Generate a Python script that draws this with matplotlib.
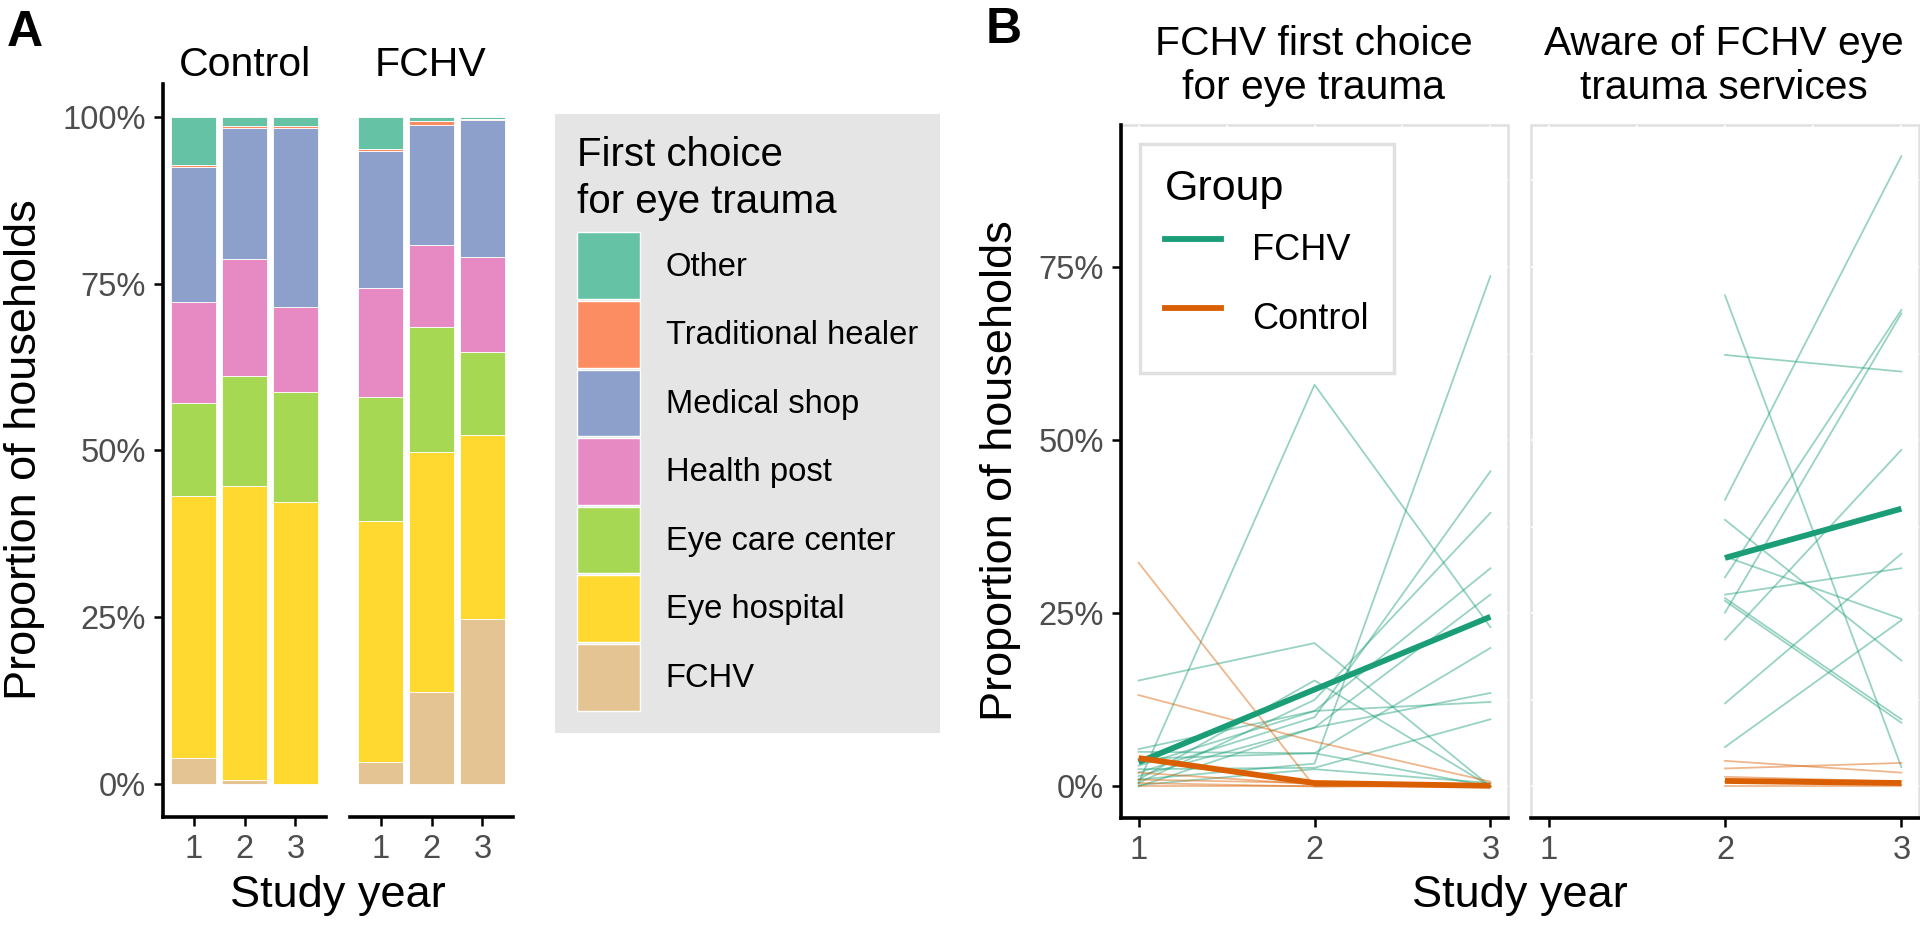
import matplotlib.pyplot as plt
import numpy as np
from matplotlib.patches import Patch, Rectangle
from matplotlib.lines import Line2D

plt.rcParams['font.family'] = ['Liberation Sans', 'DejaVu Sans']

# ---- panel A data: share of households (%) by first choice, years 1-3 ----
years = [1, 2, 3]
choices = ['Other', 'Traditional healer', 'Medical shop', 'Health post',
           'Eye care center', 'Eye hospital', 'FCHV']
choice_colors = ['#66C2A5', '#FC8D62', '#8DA0CB', '#E78AC3',
                 '#A6D854', '#FFD92F', '#E5C494']

ctrl_other = [7.2, 1.3, 1.3]
ctrl_healer = [0.3, 0.3, 0.3]
ctrl_shop = [20.2, 19.7, 26.8]
ctrl_post = [15.2, 17.5, 12.8]
ctrl_center = [14.0, 16.6, 16.6]
ctrl_hospital = [39.2, 44.1, 42.2]
ctrl_fchv = [3.9, 0.5, 0.0]

fchv_other = [4.8, 0.5, 0.3]
fchv_healer = [0.2, 0.6, 0.1]
fchv_shop = [20.6, 18.0, 20.5]
fchv_post = [16.3, 12.4, 14.3]
fchv_center = [18.7, 18.8, 12.4]
fchv_hospital = [36.1, 35.9, 27.7]
fchv_fchv = [3.3, 13.8, 24.7]

# ---- panel B data: proportion of households (%) per cluster ----
# left facet: FCHV first choice for eye trauma, years 1-3
choice_fchv_lines = [
    [0.5, 58.0, 23.0],
    [15.3, 20.7, 0.0],
    [1.0, 3.3, 73.7],
    [2.0, 10.0, 45.5],
    [0.5, 12.5, 39.5],
    [3.0, 10.9, 31.5],
    [1.5, 8.5, 27.7],
    [4.0, 4.8, 20.0],
    [0.0, 8.5, 13.5],
    [5.4, 10.9, 12.2],
    [2.5, 2.7, 9.7],
    [5.0, 4.8, 0.0],
    [1.0, 15.3, 0.0],
    [0.2, 2.5, 0.5],
]
choice_ctrl_lines = [
    [32.3, 0.0, 0.0],
    [13.2, 6.5, 0.7],
    [2.0, 0.3, 0.0],
    [0.5, 0.0, 0.3],
    [1.0, 0.5, 0.0],
    [0.0, 0.0, 0.0],
]
choice_fchv_mean = [3.5, 14.0, 24.5]
choice_ctrl_mean = [4.1, 0.5, 0.1]

# right facet: aware of FCHV eye trauma services, years 2-3
aware_years = [2, 3]
aware_fchv_lines = [
    [70.9, 2.8],
    [62.3, 59.9],
    [41.4, 91.0],
    [38.5, 18.2],
    [33.2, 24.2],
    [30.2, 68.8],
    [27.7, 31.5],
    [27.2, 9.7],
    [26.8, 9.2],
    [25.1, 68.3],
    [21.2, 48.6],
    [12.0, 33.6],
    [5.7, 24.0],
]
aware_ctrl_lines = [
    [3.7, 2.0],
    [2.6, 3.4],
    [1.4, 0.7],
    [0.7, 0.3],
    [0.0, 0.0],
]
aware_fchv_mean = [33.0, 40.1]
aware_ctrl_mean = [0.8, 0.5]

green = '#1B9E77'
orange = '#D95F02'
tick_col = '#4D4D4D'

W, H = 1920, 931
fig = plt.figure(figsize=(W / 100, H / 100), dpi=100)


def box(x0, y0, x1, y1):
    return [x0 / W, 1 - y1 / H, (x1 - x0) / W, (y1 - y0) / H]


def ftext(x, y, s, **kw):
    fig.text(x / W, 1 - y / H, s, ha='center', va='center', **kw)


axA1 = fig.add_axes(box(163, 84, 326, 817))
axA2 = fig.add_axes(box(350, 84, 513, 817))
axB1 = fig.add_axes(box(1121, 125, 1508, 818))
axB2 = fig.add_axes(box(1531, 125, 1919, 818))

# ---- panel A ----
ctrl_stack = [ctrl_fchv, ctrl_hospital, ctrl_center, ctrl_post, ctrl_shop, ctrl_healer, ctrl_other]
fchv_stack = [fchv_fchv, fchv_hospital, fchv_center, fchv_post, fchv_shop, fchv_healer, fchv_other]
stack_colors = choice_colors[::-1]

for ax, stack in [(axA1, ctrl_stack), (axA2, fchv_stack)]:
    bottom = np.zeros(3)
    for vals, col in zip(stack, stack_colors):
        v = np.array(vals) / 100
        ax.bar(years, v, bottom=bottom, width=0.9, color=col,
               edgecolor='white', linewidth=0.6)
        bottom += v
    ax.set_xlim(0.4, 3.6)
    ax.set_ylim(-0.05, 1.05)
    ax.set_xticks(years)
    ax.set_xticklabels(['1', '2', '3'])
    for s in ['top', 'right']:
        ax.spines[s].set_visible(False)
    for s in ['left', 'bottom']:
        ax.spines[s].set_linewidth(2.6)
    ax.tick_params(length=6.5, width=1.8, labelsize=23.5, labelcolor=tick_col, pad=6)

axA1.set_yticks([0, 0.25, 0.5, 0.75, 1.0])
axA1.set_yticklabels(['0%', '25%', '50%', '75%', '100%'])
axA2.spines['left'].set_visible(False)
axA2.set_yticks([])

ftext(245, 65, 'Control', fontsize=29.5)
ftext(431, 65, 'FCHV', fontsize=29.5)
ftext(25, 450, 'Proportion of households', fontsize=32.5, rotation=90)
ftext(338, 896, 'Study year', fontsize=32.5)
ftext(25, 33, 'A', fontsize=36, fontweight='bold')

legA = fig.legend(
    handles=[Patch(facecolor=c, edgecolor='white', linewidth=1) for c in choice_colors],
    labels=choices, loc='upper left', bbox_to_anchor=(555 / W, 1 - 114 / H),
    fontsize=23.6, title='First choice\nfor eye trauma', title_fontsize=29,
    frameon=True, fancybox=False, facecolor='#E5E5E5', edgecolor='none', framealpha=1,
    handlelength=1.9, handleheight=2.75, labelspacing=0.06, handletextpad=0.8,
    borderpad=0.68, borderaxespad=0, alignment='left')
legA.get_title().set_linespacing(1.3)
legA._legend_box.sep = 8

# ---- panel B ----
for ax, xs, f_lines, c_lines, f_mean, c_mean in [
        (axB1, years, choice_fchv_lines, choice_ctrl_lines, choice_fchv_mean, choice_ctrl_mean),
        (axB2, aware_years, aware_fchv_lines, aware_ctrl_lines, aware_fchv_mean, aware_ctrl_mean)]:
    # light panel border under white grid lines
    ax.add_patch(Rectangle((0, 0), 1, 1, transform=ax.transAxes, fill=False,
                           edgecolor='#E0E0E0', lw=1.8, zorder=0.1, clip_on=False))
    for row in f_lines:
        ax.plot(xs, np.array(row) / 100, color=green, alpha=0.45, lw=1.3)
    for row in c_lines:
        ax.plot(xs, np.array(row) / 100, color=orange, alpha=0.45, lw=1.3)
    ax.plot(xs, np.array(f_mean) / 100, color=green, lw=4.2, solid_capstyle='butt')
    ax.plot(xs, np.array(c_mean) / 100, color=orange, lw=4.2, solid_capstyle='butt')
    ax.set_xlim(0.9, 3.1)
    ax.set_ylim(-0.0455, 0.955)
    ax.set_xticks(years)
    ax.set_xticklabels(['1', '2', '3'])
    ax.set_xticks([1.5, 2.5], minor=True)
    ax.set_yticks([0, 0.25, 0.5, 0.75])
    ax.set_yticks([0.125, 0.375, 0.625, 0.875], minor=True)
    ax.set_axisbelow(True)
    ax.grid(True, which='both', color='white', lw=1.2)
    for s in ['top', 'right', 'left']:
        ax.spines[s].set_visible(False)
    ax.spines['bottom'].set_linewidth(2.6)
    ax.tick_params(length=6.5, width=1.8, labelsize=23.5, labelcolor=tick_col, pad=6)
    ax.tick_params(which='minor', length=0)

axB1.spines['left'].set_visible(True)
axB1.spines['left'].set_linewidth(2.6)
axB1.set_yticklabels(['0%', '25%', '50%', '75%'])
axB2.tick_params(axis='y', which='both', length=0, labelleft=False)

legB = axB1.legend(
    handles=[Line2D([], [], color=green, lw=4.2), Line2D([], [], color=orange, lw=4.2)],
    labels=['FCHV', 'Control'], title='Group', title_fontsize=31, fontsize=26,
    loc='upper left', bbox_to_anchor=(0.049, 0.973), frameon=True, fancybox=False,
    edgecolor='#E0E0E0', facecolor='white', framealpha=1,
    handlelength=1.55, handletextpad=0.85, labelspacing=0.25, handleheight=2.2,
    borderpad=0.7, borderaxespad=0, alignment='left')
legB.get_frame().set_linewidth(2.5)

ftext(1314, 66, 'FCHV first choice\nfor eye trauma', fontsize=29.3)
ftext(1724, 66, 'Aware of FCHV eye\ntrauma services', fontsize=29.3)
ftext(1000, 471, 'Proportion of households', fontsize=32.5, rotation=90)
ftext(1520, 896, 'Study year', fontsize=32.5)
ftext(1004, 30, 'B', fontsize=36, fontweight='bold')

fig.savefig('out.png', dpi=100)
